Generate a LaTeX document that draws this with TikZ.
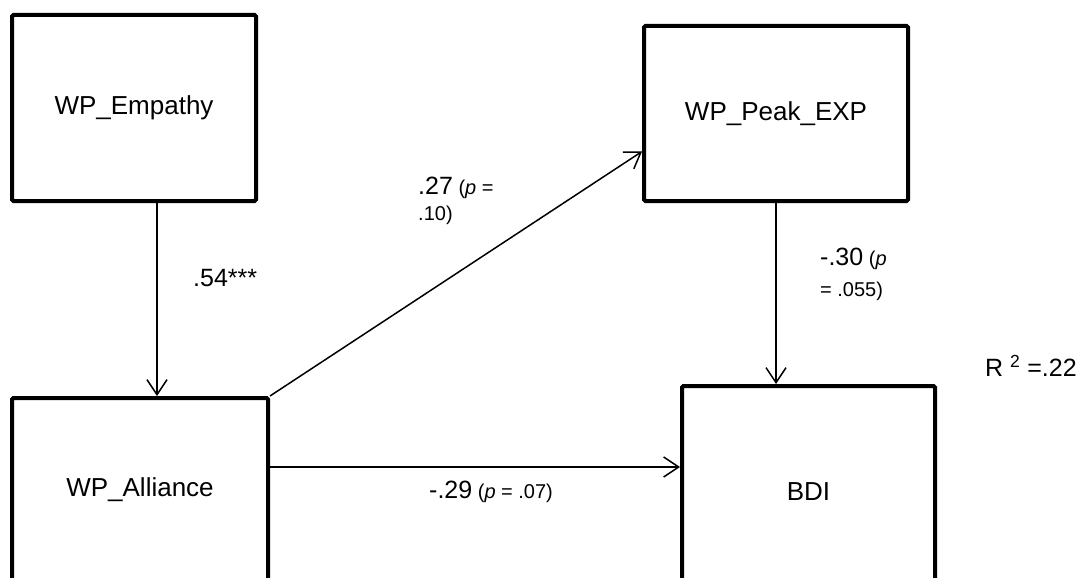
\documentclass[tikz,border=0pt]{standalone}
\usepackage{fontspec}
\setmainfont{Liberation Sans}
\usetikzlibrary{arrows.meta, positioning}
\tikzset{
  varbox/.style={draw=black, line width=4pt, rounded corners=1.5pt, fill=white, inner sep=2pt, font=\fontsize{26}{30}\selectfont},
  pathline/.style={line width=1.5pt, -{Straight Barb[length=15pt, width=20pt, line width=1.5pt]}},
  coef/.style={inner sep=0pt, align=left, font=\fontsize{20}{26}\selectfont}
}
\newcommand{\coefnum}[1]{{\fontsize{25}{26}\selectfont #1}}
\begin{document}
\begin{tikzpicture}[x=1pt, y=-1pt]
    \useasboundingbox (0,0) rectangle (1082,578);
    \clip (0,0) rectangle (1082,578);

    % Variables
    \node[varbox, minimum width=244pt, minimum height=186pt] (emp) at (134,108) {WP\_Empathy};
    \node[varbox, minimum width=264pt, minimum height=175pt] (peak) at (776,113.5) {WP\_Peak\_EXP};
    \node[varbox, minimum width=256pt, minimum height=184pt] (all) at (140,490) {WP\_Alliance};
    \node[varbox, minimum width=253pt, minimum height=212pt] (bdi) at (808.5,492) {BDI};

    % Paths
    \draw[pathline] ([xshift=23pt]emp.south) -- ([xshift=17pt]all.north);
    \draw[pathline] (all.north east) -- ([yshift=-38pt]peak.west);
    \draw[pathline] (peak.south) -- (peak.south |- bdi.north);
    \draw[pathline] ([yshift=23pt]all.east) -- ([yshift=23pt]all.east -| bdi.west);

    % Coefficients
    \node[coef, anchor=west] (c54) at (193,278) {\coefnum{.54***}};
    \node[coef, anchor=north west] (c27) at (418,177) {\coefnum{.27} (\textit{p} =\\.10)};
    \node[coef, anchor=north west, font=\fontsize{20}{31}\selectfont] (c30) at (820,248) {\coefnum{-.30} (\textit{p}\\= .055)};
    \node[coef, anchor=west] (c29) at (429,492) {\coefnum{-.29} (\textit{p} = .07)};
    \node[coef, anchor=west, font=\fontsize{25}{30}\selectfont] (r2) at (985,366) {R \textsuperscript{2} =.22};
\end{tikzpicture}
\end{document}
